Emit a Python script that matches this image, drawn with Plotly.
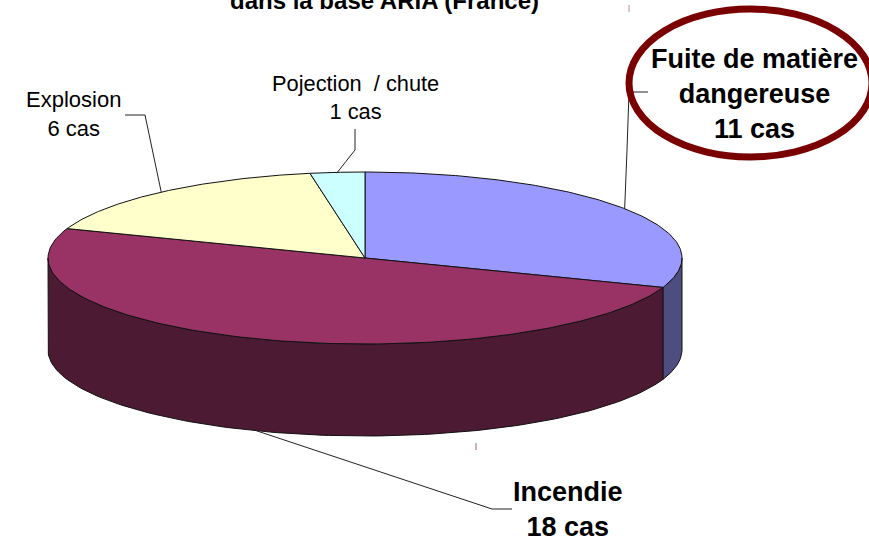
import numpy as np
import plotly.graph_objects as go

# Accident counts, clockwise from twelve o'clock
categories = ["Fuite de matière dangereuse", "Incendie", "Explosion", "Projection / chute"]
counts = [11, 18, 6, 1]
top_colors = ["#9999FF", "#993366", "#FFFFCC", "#CCFFFF"]
side_colors = ["#4D4D80", "#4D1A33", "#80806A", "#6A8080"]

# Label text per slice
label_texts = [
    "<b>Fuite de matière<br>dangereuse<br>11 cas</b>",
    "<b>Incendie<br>18 cas</b>",
    "Explosion<br>6 cas",
    "Pojection  / chute<br>1 cas",
]
label_centres = [(754, 94), (568, 509), (73, 114), (355, 97)]
label_sizes = [27, 27, 22, 21.8]
# Leader elbows, running from the label towards the slice
leader_elbows = [
    [(648, 92), (629, 92), (627, 150)],
    [(512, 509), (492, 509)],
    [(125, 115), (145, 115)],
    [(355, 129), (355, 150)],
]

# Disc geometry on a pixel-sized plotting area
WIDTH, HEIGHT = 869, 541
CX, CY, RX, RY, DEPTH = 365, 258, 317, 86, 92


def rim(theta_deg, drop=0.0):
    """Project clockwise-from-top angles onto the tilted disc."""
    t = np.radians(theta_deg)
    return CX + RX * np.sin(t), CY - RY * np.cos(t) + drop


fig = go.Figure()

shares = np.array(counts) / sum(counts) * 360
ends = np.cumsum(shares)
starts = ends - shares

# Visible wall first: only the front half of the disc shows a side
for a0, a1, colour in zip(starts, ends, side_colors):
    lo, hi = max(a0, 90), min(a1, 270)
    if hi <= lo:
        continue
    arc = np.linspace(lo, hi, 120)
    x_top, y_top = rim(arc)
    x_bot, y_bot = rim(arc[::-1], DEPTH)
    fig.add_trace(go.Scatter(
        x=np.r_[x_top, x_bot, x_top[0]], y=np.r_[y_top, y_bot, y_top[0]],
        mode="lines", fill="toself", fillcolor=colour,
        line=dict(color="#111111", width=1), hoverinfo="skip",
    ))

# Top face
for a0, a1, colour, name in zip(starts, ends, top_colors, categories):
    arc = np.linspace(a0, a1, 160)
    x_top, y_top = rim(arc)
    fig.add_trace(go.Scatter(
        x=np.r_[CX, x_top, CX], y=np.r_[CY, y_top, CY],
        mode="lines", fill="toself", fillcolor=colour, name=name,
        line=dict(color="#111111", width=1), hoverinfo="name",
    ))

# Leader lines end on the rim at each slice's middle angle
shapes = []
for i, elbows in enumerate(leader_elbows):
    mid = (starts[i] + ends[i]) / 2
    drop = DEPTH if 90 < mid < 270 else 0
    ax, ay = rim(mid, drop)
    pts = elbows + [(float(ax), float(ay))]
    path = "M " + " L ".join(f"{px},{py}" for px, py in pts)
    shapes.append(dict(type="path", path=path, xref="x", yref="y",
                       line=dict(color="#222222", width=1)))

# Highlight ring round the leak label
shapes.append(dict(type="circle", xref="x", yref="y", x0=629, x1=872, y0=9, y1=157,
                   line=dict(color="#7A0000", width=7), layer="above"))

# Two small stray ticks on the page
shapes.append(dict(type="line", xref="x", yref="y", x0=629, x1=629, y0=5, y1=12,
                   line=dict(color="#C88A8A", width=1)))
shapes.append(dict(type="line", xref="x", yref="y", x0=476, x1=476, y0=443, y1=450,
                   line=dict(color="#A06060", width=1)))

annotations = [
    dict(x=cx, y=cy, text=txt, xref="x", yref="y", showarrow=False,
         xanchor="center", yanchor="middle", align="center",
         font=dict(family="Liberation Sans", size=size, color="#000000"))
    for txt, (cx, cy), size in zip(label_texts, label_centres, label_sizes)
]

# Last line of the heading, running off the top of the page
annotations.append(dict(
    x=384, y=16, xref="x", yref="y", showarrow=False, xanchor="center", yanchor="bottom",
    text="<b>dans la base ARIA (France)</b>",
    font=dict(family="Liberation Sans", size=24, color="#000000"),
))

fig.update_layout(
    width=WIDTH, height=HEIGHT, margin=dict(l=0, r=0, t=0, b=0),
    paper_bgcolor="white", plot_bgcolor="white", showlegend=False,
    xaxis=dict(range=[0, WIDTH], visible=False, fixedrange=True),
    yaxis=dict(range=[HEIGHT, 0], visible=False, fixedrange=True),
    shapes=shapes, annotations=annotations,
)

fig.write_html("out.html")
